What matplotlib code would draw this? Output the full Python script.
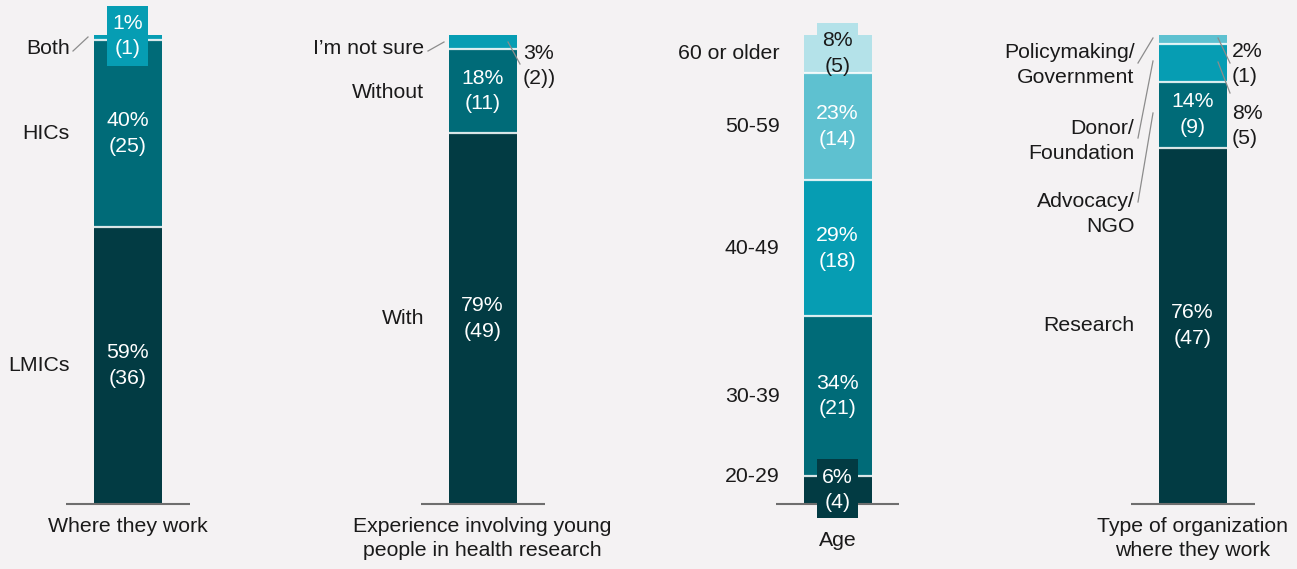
import matplotlib
matplotlib.use("Agg")
import matplotlib.pyplot as plt
from matplotlib.patches import Rectangle
import numpy as np

plt.rcParams['font.family'] = ['Liberation Sans', 'DejaVu Sans']

# ---------------- data ----------------
panel_titles = ["Where they work",
                "Experience involving young\npeople in health research",
                "Age",
                "Type of organization\nwhere they work"]

where_labels = ["LMICs", "HICs", "Both"]
where_pct = [59, 40, 1]
where_n = [36, 25, 1]

exp_labels = ["With", "Without", "I’m not sure"]
exp_pct = [79, 18, 3]
exp_n = ["49", "11", "2)"]

age_labels = ["20-29", "30-39", "40-49", "50-59", "60 or older"]
age_pct = [6, 34, 29, 23, 8]
age_n = [4, 21, 18, 14, 5]

org_labels = ["Research", "Advocacy/\nNGO", "Donor/\nFoundation", "Policymaking/\nGovernment"]
org_pct = [76, 14, 8, 2]
org_n = [47, 9, 5, 1]

# ---------------- style ----------------
BG = "#f4f2f3"
DARK = "#023b43"
TEAL = "#006b78"
MID = "#069db3"
LIGHT = "#5ec1d0"
PALE = "#b4e2e9"
TXT = "#1a1a1a"
LINEC = "#8c8c8c"
FS = 15.3
LS_IN = 1.44
LS_LAB = 1.40

W, H = 1297, 569
fig = plt.figure(figsize=(W / 100, H / 100), dpi=100, facecolor=BG)
BASE_PX, TOP_PX = 504, 35
ax = fig.add_axes([0, (H - BASE_PX) / H, 1, (BASE_PX - TOP_PX) / H])
ax.set_facecolor(BG)
X0, SP = 127.5, 355.0
ax.set_xlim(-X0 / SP, (W - X0) / SP)
ax.set_ylim(0, 100)
ax.axis("off")
PPU = (BASE_PX - TOP_PX) / 100.0


def px2x(px):
    return (px - X0) / SP


def py2y(py):
    return (BASE_PX - py) / PPU


BW = 68 / SP

panels = [
    (where_labels, where_pct, where_n, [DARK, TEAL, MID]),
    (exp_labels, exp_pct, exp_n, [DARK, TEAL, MID]),
    (age_labels, age_pct, age_n, [DARK, TEAL, MID, LIGHT, PALE]),
    (org_labels, org_pct, org_n, [DARK, TEAL, MID, LIGHT]),
]
title_top_px = [517, 517, 531, 517]

mids = []
for i, (labs, pcts, ns, cols) in enumerate(panels):
    bottoms = np.concatenate([[0], np.cumsum(pcts)[:-1]])
    ax.bar(i, pcts, bottom=bottoms, width=BW, color=cols, linewidth=0, zorder=2)
    # separators
    for b in bottoms[1:]:
        ax.hlines(b, i - BW / 2, i + BW / 2, color="white", lw=1.6, alpha=0.85, zorder=2.5)
    # baseline
    ax.hlines(0, i - 62 / SP, i + 62 / SP, color="#6e6e6e", lw=1.5, zorder=3, clip_on=False)
    # panel title
    ax.text(i, py2y(title_top_px[i]), panel_titles[i], ha="center", va="top", fontsize=FS,
            color=TXT, linespacing=1.34, clip_on=False)
    mids.append(bottoms + np.array(pcts) / 2)

LX = -(24 + 34) / SP  # left label offset from bar center


def left_label(i, y, s):
    ax.text(i + LX, y, s, ha="right", va="center", fontsize=FS, color=TXT,
            linespacing=LS_LAB, clip_on=False)


def inside(i, y, s, color="white"):
    ax.text(i, y, s, ha="center", va="center", fontsize=FS, color=color,
            linespacing=LS_IN, zorder=5, clip_on=False)


def right_label(px, py, s):
    ax.text(px2x(px), py2y(py), s, ha="left", va="center", fontsize=FS, color=TXT,
            linespacing=LS_IN, clip_on=False)


def box(i, top_px, bot_px, color):
    ax.add_patch(Rectangle((i - 20.5 / SP, py2y(bot_px)), 41 / SP,
                           (bot_px - top_px) / PPU, facecolor=color,
                           edgecolor="none", zorder=4, clip_on=False))


def leader(x1, y1, x2, y2):
    ax.plot([px2x(x1), px2x(x2)], [py2y(y1), py2y(y2)], color=LINEC, lw=0.9,
            zorder=3, clip_on=False)


# ---- panel 1: Where they work ----
m = mids[0]
left_label(0, m[0], where_labels[0])
left_label(0, m[1], where_labels[1])
left_label(0, py2y(49), where_labels[2])
inside(0, m[0], f"{where_pct[0]}%\n({where_n[0]})")
inside(0, m[1], f"{where_pct[1]}%\n({where_n[1]})")
box(0, 6, 66, MID)
inside(0, py2y(36), f"{where_pct[2]}%\n({where_n[2]})")
leader(73, 51, 88, 37)

# ---- panel 2: Experience ----
m = mids[1]
left_label(1, m[0], exp_labels[0])
left_label(1, py2y(92), exp_labels[1])
left_label(1, py2y(49), exp_labels[2])
inside(1, m[0], f"{exp_pct[0]}%\n({exp_n[0]})")
inside(1, py2y(91), f"{exp_pct[1]}%\n({exp_n[1]})")
leader(428, 51, 444, 42)
leader(508, 42, 520, 64)
right_label(523, 66, f"{exp_pct[2]}%\n({exp_n[2]})")

# ---- panel 3: Age ----
m = mids[2]
left_label(2, py2y(476), age_labels[0])
for k in range(1, 5):
    left_label(2, m[k], age_labels[k])
box(2, 459, 518, DARK)
inside(2, py2y(490), f"{age_pct[0]}%\n({age_n[0]})")
for k in range(1, 4):
    inside(2, m[k], f"{age_pct[k]}%\n({age_n[k]})")
box(2, 23, 72, PALE)
inside(2, py2y(53.5), f"{age_pct[4]}%\n({age_n[4]})", color=TXT)

# ---- panel 4: Organization ----
m = mids[3]
left_label(3, m[0], org_labels[0])
left_label(3, py2y(214), org_labels[1])
left_label(3, py2y(141), org_labels[2])
left_label(3, py2y(65), org_labels[3])
inside(3, m[0], f"{org_pct[0]}%\n({org_n[0]})")
inside(3, m[1], f"{org_pct[1]}%\n({org_n[1]})")
leader(1138, 63, 1153, 38)
leader(1138, 138, 1153, 61)
leader(1138, 202, 1153, 113)
leader(1218, 38, 1230, 63)
leader(1218, 62, 1230, 93)
right_label(1232, 64, f"{org_pct[3]}%\n({org_n[3]})")
right_label(1232, 126, f"{org_pct[2]}%\n({org_n[2]})")

fig.savefig("out.png", dpi=100, facecolor=BG)
